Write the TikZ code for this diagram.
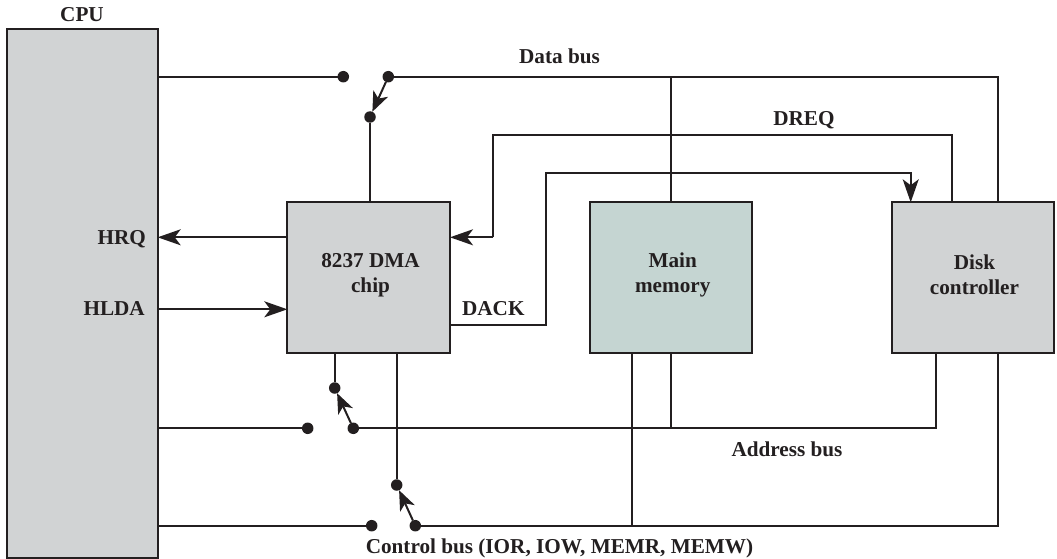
\documentclass[tikz,border=0pt]{standalone}
\usepackage{fontspec}
\setmainfont{Liberation Serif}
\usetikzlibrary{arrows.meta}
\definecolor{boxgray}{HTML}{D1D3D4}
\definecolor{memgreen}{HTML}{C5D5D2}
\definecolor{ink}{HTML}{231F20}
\tikzset{
  wire/.style={draw=ink,line width=2pt},
  arr/.style={wire,-{Stealth[length=23pt,width=16pt,inset=6pt,fill=ink]}},
  swarr/.style={wire,-{Stealth[length=20pt,width=16pt,inset=5.5pt,fill=ink]}},
  box/.style={draw=ink,line width=2pt,fill=boxgray,inner sep=0pt,outer sep=0pt,minimum height=151pt,anchor=north west,minimum width=#1},
  dot/.style={circle,fill=ink,inner sep=0pt,outer sep=0pt,minimum size=11.5pt},
  lab/.style={font=\fontsize{21.2}{25}\selectfont\bfseries,text=ink,inner sep=0pt,anchor=base},
  lab2/.style={font=\fontsize{21.2}{25}\selectfont\bfseries,text=ink,inner sep=0pt,align=center},
}
\begin{document}
\begin{tikzpicture}[x=1pt,y=-1pt]
\useasboundingbox (0,0) rectangle (1057,559);
% boxes
\node[box=151pt,minimum height=528.4pt] (cpu) at (6.7,29.3) {};
\node[box=162.7pt] (dma) at (287.3,202.3) {};
\node[box=162.3pt,fill=memgreen] (mem) at (590,202.3) {};
\node[box=162pt] (disk) at (892.3,202.3) {};
% box texts
\node[lab2] (dmat) at (370.5,275) {8237 DMA\\chip};
\node[lab2] (memt) at (672.7,275) {Main\\memory};
\node[lab2] (diskt) at (974.5,275) {Disk\\controller};
% dots
\node[dot] (d1) at (343.3,76.7) {};
\node[dot] (d2) at (388.3,76.7) {};
\node[dot] (d3) at (370,117) {};
\node[dot] (a1) at (307.7,428.3) {};
\node[dot] (a2) at (353.3,428.3) {};
\node[dot] (a3) at (334.7,388) {};
\node[dot] (c1) at (371.7,525.7) {};
\node[dot] (c2) at (415.3,525.7) {};
\node[dot] (c3) at (396.7,485) {};
% corners and junctions
\coordinate (dbr) at (997.7,76.7);
\coordinate (dbm) at (670.7,76.7);
\coordinate (rq1) at (951.7,135.3);
\coordinate (rq2) at (493.3,135.3);
\coordinate (rq3) at (493.3,237.3);
\coordinate (ak1) at (450,325);
\coordinate (ak2) at (545.7,325);
\coordinate (ak3) at (545.7,173.3);
\coordinate (ak4) at (910.7,173.3);
\coordinate (abr) at (935.7,428.3);
\coordinate (abm) at (670.7,428.3);
\coordinate (cbr) at (997.7,525.7);
\coordinate (cbm) at (632,525.7);
\coordinate (hr) at (287.3,237.3);
\coordinate (hl) at (287.3,309.3);
% data bus
\draw[wire] (cpu.east |- d1) -- (d1);
\draw[wire] (d2) -- (dbr) -- (dbr |- disk.north);
\draw[wire] (dbm) -- (dbm |- mem.north);
\draw[swarr] (d2) -- (d3);
\draw[wire] (d3) -- (d3 |- dma.north);
% DREQ
\draw[wire] (rq1 |- disk.north) -- (rq1) -- (rq2) -- (rq3);
\draw[arr] (rq3) -- (rq3 -| dma.east);
% DACK
\draw[arr] (ak1) -- (ak2) -- (ak3) -- (ak4) -- (ak4 |- disk.north);
% HRQ, HLDA
\draw[arr] (hr) -- (hr -| cpu.east);
\draw[arr] (hl -| cpu.east) -- (hl);
% address bus
\draw[wire] (cpu.east |- a1) -- (a1);
\draw[wire] (a2) -- (abr) -- (abr |- disk.south);
\draw[wire] (abm) -- (abm |- mem.south);
\draw[swarr] (a2) -- (a3);
\draw[wire] (a3) -- (a3 |- dma.south);
% control bus
\draw[wire] (cpu.east |- c1) -- (c1);
\draw[wire] (c2) -- (cbr) -- (cbr |- disk.south);
\draw[wire] (cbm) -- (cbm |- mem.south);
\draw[swarr] (c2) -- (c3);
\draw[wire] (c3) -- (c3 |- dma.south);
% labels
\node[lab] (lcpu) at (82,21.5) {CPU};
\node[lab,anchor=base east] (lhrq) at (146,244.5) {HRQ};
\node[lab,anchor=base east] (lhlda) at (145,315) {HLDA};
\node[lab] (ldack) at (493.3,315) {DACK};
\node[lab] (ldata) at (559.5,64) {Data bus};
\node[lab] (ldreq) at (804,125) {DREQ};
\node[lab] (laddr) at (787,456) {Address bus};
\node[lab] (lctl) at (559.5,553) {Control bus (IOR, IOW, MEMR, MEMW)};
\end{tikzpicture}
\end{document}
